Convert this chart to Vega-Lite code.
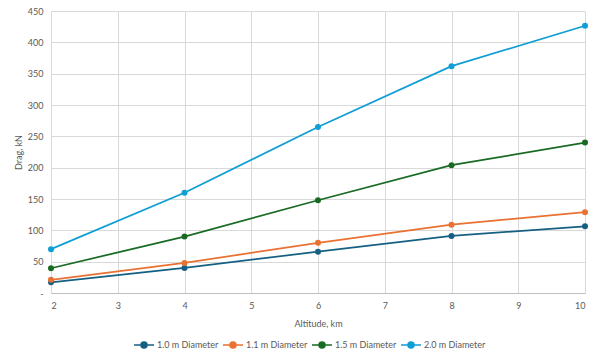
{
  "$schema": "https://vega.github.io/schema/vega-lite/v6.json",
  "width": 534,
  "height": 282,
  "autosize": "none",
  "padding": {"left": 51, "top": 11, "right": 15, "bottom": 65},
  "background": "white",
  "config": {
    "font": "Lato",
    "view": {"stroke": null},
    "axis": {"labelColor": "#595959", "titleColor": "#595959", "labelFontSize": 9, "titleFontSize": 9, "titleFontWeight": "normal", "gridColor": "#d9d9d9", "ticks": false}
  },
  "data": {"values": [
    {"alt": 2, "drag": 17, "series": "1.0 m Diameter"},
    {"alt": 4, "drag": 40, "series": "1.0 m Diameter"},
    {"alt": 6, "drag": 66, "series": "1.0 m Diameter"},
    {"alt": 8, "drag": 91, "series": "1.0 m Diameter"},
    {"alt": 10, "drag": 106.5, "series": "1.0 m Diameter"},
    {"alt": 2, "drag": 21, "series": "1.1 m Diameter"},
    {"alt": 4, "drag": 48, "series": "1.1 m Diameter"},
    {"alt": 6, "drag": 80, "series": "1.1 m Diameter"},
    {"alt": 8, "drag": 109, "series": "1.1 m Diameter"},
    {"alt": 10, "drag": 129, "series": "1.1 m Diameter"},
    {"alt": 2, "drag": 39.5, "series": "1.5 m Diameter"},
    {"alt": 4, "drag": 90, "series": "1.5 m Diameter"},
    {"alt": 6, "drag": 148, "series": "1.5 m Diameter"},
    {"alt": 8, "drag": 204, "series": "1.5 m Diameter"},
    {"alt": 10, "drag": 240, "series": "1.5 m Diameter"},
    {"alt": 2, "drag": 70, "series": "2.0 m Diameter"},
    {"alt": 4, "drag": 160, "series": "2.0 m Diameter"},
    {"alt": 6, "drag": 265, "series": "2.0 m Diameter"},
    {"alt": 8, "drag": 362, "series": "2.0 m Diameter"},
    {"alt": 10, "drag": 426.5, "series": "2.0 m Diameter"}
  ]},
  "encoding": {
    "x": {"field": "alt", "type": "quantitative", "scale": {"domain": [2, 10], "nice": false, "zero": false},
      "axis": {"title": "Altitude, km", "values": [2,3,4,5,6,7,8,9,10], "labelOverlap": false, "domainColor": "#bfbfbf", "labelPadding": 8, "titlePadding": 9}},
    "y": {"field": "drag", "type": "quantitative", "scale": {"domain": [0, 450], "nice": false},
      "axis": {"title": "Drag, kN", "values": [0,50,100,150,200,250,300,350,400,450], "labelOverlap": false, "domain": false, "labelPadding": 8, "titlePadding": 4,
        "labelExpr": "datum.value == 0 ? '-\u00a0\u00a0\u00a0' : datum.label"}},
    "color": {"field": "series", "type": "nominal",
      "scale": {"domain": ["1.0 m Diameter", "1.1 m Diameter", "1.5 m Diameter", "2.0 m Diameter"], "range": ["#156082", "#E97132", "#196B24", "#0F9ED5"]},
      "legend": {"title": null, "orient": "none", "legendX": 82, "legendY": 323, "direction": "horizontal", "labelColor": "#595959", "labelFontSize": 9,
        "symbolType": "M-1,0L1,0M-0.3,0A0.3,0.3 0 1,1 0.3,0A0.3,0.3 0 1,1 -0.3,0Z", "symbolSize": 400, "symbolStrokeWidth": 1.5, "columnPadding": 1, "labelOffset": 2}}
  },
  "layer": [
    {"mark": {"type": "line", "strokeWidth": 1.75}},
    {"mark": {"type": "point", "filled": true, "size": 36, "opacity": 1}}
  ]
}
